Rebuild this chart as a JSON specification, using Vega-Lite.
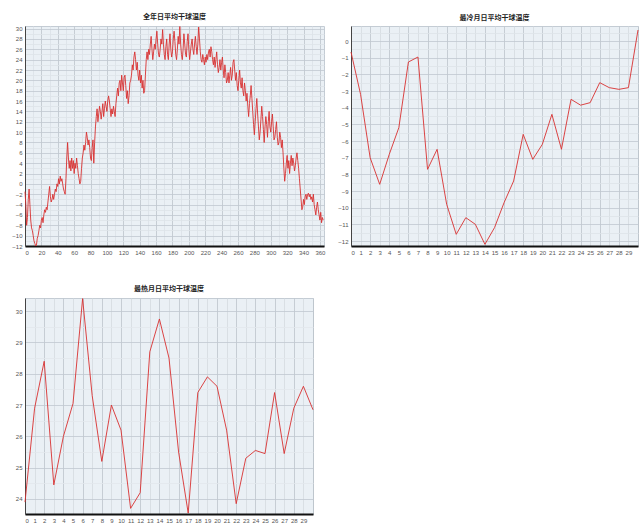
{
  "$schema": "https://vega.github.io/schema/vega-lite/v6.json",
  "background": "white",
  "padding": {"left": 11, "top": 12, "right": 5, "bottom": 5},
  "config": {
    "view": {"fill": "#eaf0f5", "stroke": "#c4ccd4", "strokeWidth": 1},
    "axis": {"labelFontSize": 6, "labelColor": "#555555", "labelFont": "Liberation Sans", "ticks": false, "labelPadding": 3, "title": null, "gridWidth": 0.8, "labelOverlap": false, "format": "d"},
    "axisX": {"domainColor": "#111111", "domainWidth": 2},
    "axisY": {"domainColor": "#444444", "domainWidth": 1},
    "title": {"fontSize": 7, "font": "Noto Sans CJK SC", "fontWeight": "bold", "color": "#222222", "offset": 5, "anchor": "middle"},
    "line": {"color": "#d83030", "strokeWidth": 0.9}
  },
  "datasets": {
    "year": [
{"day":0,"temp":-1.5},{"day":1,"temp":-4},{"day":2,"temp":-8},{"day":3,"temp":-6.5},{"day":4,"temp":-3},{"day":5,"temp":-1},{"day":6,"temp":-4},{"day":7,"temp":-7},{"day":8,"temp":-8.5},{"day":9,"temp":-9},
{"day":10,"temp":-10},{"day":11,"temp":-11},{"day":12,"temp":-11.5},{"day":13,"temp":-12},{"day":14,"temp":-11.8},{"day":15,"temp":-10.5},{"day":16,"temp":-10},{"day":17,"temp":-9},{"day":18,"temp":-8},{"day":19,"temp":-8.5},
{"day":20,"temp":-7},{"day":21,"temp":-6.5},{"day":22,"temp":-7.5},{"day":23,"temp":-6},{"day":24,"temp":-5},{"day":25,"temp":-5.5},{"day":26,"temp":-4.5},{"day":27,"temp":-5},{"day":28,"temp":-3.5},{"day":29,"temp":-2},
{"day":30,"temp":-0.5},{"day":31,"temp":-2.5},{"day":32,"temp":-3.5},{"day":33,"temp":-3},{"day":34,"temp":-2},{"day":35,"temp":-3},{"day":36,"temp":-2},{"day":37,"temp":-1},{"day":38,"temp":-1.5},{"day":39,"temp":0},
{"day":40,"temp":-0.5},{"day":41,"temp":1},{"day":42,"temp":0},{"day":43,"temp":1.5},{"day":44,"temp":0.5},{"day":45,"temp":1},{"day":46,"temp":0},{"day":47,"temp":-1},{"day":48,"temp":-1.5},{"day":49,"temp":-2},
{"day":50,"temp":1},{"day":51,"temp":5},{"day":52,"temp":8},{"day":53,"temp":5},{"day":54,"temp":3},{"day":55,"temp":4.5},{"day":56,"temp":2.5},{"day":57,"temp":5},{"day":58,"temp":3},{"day":59,"temp":4.5},
{"day":60,"temp":2},{"day":61,"temp":4},{"day":62,"temp":3},{"day":63,"temp":5},{"day":64,"temp":3.5},{"day":65,"temp":2},{"day":66,"temp":1},{"day":67,"temp":0},{"day":68,"temp":0.5},{"day":69,"temp":3},
{"day":70,"temp":5},{"day":71,"temp":6},{"day":72,"temp":7.5},{"day":73,"temp":6.5},{"day":74,"temp":8},{"day":75,"temp":10},{"day":76,"temp":9},{"day":77,"temp":7.5},{"day":78,"temp":8.5},{"day":79,"temp":7},
{"day":80,"temp":5},{"day":81,"temp":4.5},{"day":82,"temp":7},{"day":83,"temp":8.5},{"day":84,"temp":4},{"day":85,"temp":8},{"day":86,"temp":11},{"day":87,"temp":13},{"day":88,"temp":14.5},{"day":89,"temp":12},
{"day":90,"temp":13.5},{"day":91,"temp":15},{"day":92,"temp":14},{"day":93,"temp":12.5},{"day":94,"temp":14},{"day":95,"temp":15.5},{"day":96,"temp":13},{"day":97,"temp":14.5},{"day":98,"temp":16},{"day":99,"temp":15},
{"day":100,"temp":14},{"day":101,"temp":16},{"day":102,"temp":17},{"day":103,"temp":16},{"day":104,"temp":14.5},{"day":105,"temp":13},{"day":106,"temp":14.5},{"day":107,"temp":13.5},{"day":108,"temp":15},{"day":109,"temp":14},
{"day":110,"temp":13},{"day":111,"temp":15.5},{"day":112,"temp":17},{"day":113,"temp":18.5},{"day":114,"temp":17},{"day":115,"temp":19.5},{"day":116,"temp":20},{"day":117,"temp":18},{"day":118,"temp":21},{"day":119,"temp":19.5},
{"day":120,"temp":18},{"day":121,"temp":20.5},{"day":122,"temp":21},{"day":123,"temp":19},{"day":124,"temp":16.5},{"day":125,"temp":18},{"day":126,"temp":15.5},{"day":127,"temp":17},{"day":128,"temp":19.5},{"day":129,"temp":20},
{"day":130,"temp":21},{"day":131,"temp":23},{"day":132,"temp":22},{"day":133,"temp":24.5},{"day":134,"temp":25.5},{"day":135,"temp":24},{"day":136,"temp":22},{"day":137,"temp":23.5},{"day":138,"temp":21},{"day":139,"temp":20},
{"day":140,"temp":22},{"day":141,"temp":19.5},{"day":142,"temp":21},{"day":143,"temp":18.5},{"day":144,"temp":20},{"day":145,"temp":17.5},{"day":146,"temp":18},{"day":147,"temp":21},{"day":148,"temp":24},{"day":149,"temp":25.5},
{"day":150,"temp":24},{"day":151,"temp":26},{"day":152,"temp":25},{"day":153,"temp":27},{"day":154,"temp":28.5},{"day":155,"temp":26},{"day":156,"temp":24},{"day":157,"temp":25.5},{"day":158,"temp":27},{"day":159,"temp":26},
{"day":160,"temp":28},{"day":161,"temp":29.5},{"day":162,"temp":27},{"day":163,"temp":25},{"day":164,"temp":24.5},{"day":165,"temp":26},{"day":166,"temp":28},{"day":167,"temp":27},{"day":168,"temp":29.8},{"day":169,"temp":27},
{"day":170,"temp":25},{"day":171,"temp":24},{"day":172,"temp":26.5},{"day":173,"temp":28},{"day":174,"temp":25},{"day":175,"temp":24},{"day":176,"temp":27},{"day":177,"temp":29},{"day":178,"temp":26},{"day":179,"temp":24.5},
{"day":180,"temp":25.5},{"day":181,"temp":28},{"day":182,"temp":29.5},{"day":183,"temp":27.5},{"day":184,"temp":25},{"day":185,"temp":24},{"day":186,"temp":26},{"day":187,"temp":28.5},{"day":188,"temp":27},{"day":189,"temp":30.4},
{"day":190,"temp":27},{"day":191,"temp":25},{"day":192,"temp":24},{"day":193,"temp":26},{"day":194,"temp":29},{"day":195,"temp":27},{"day":196,"temp":25},{"day":197,"temp":24.5},{"day":198,"temp":27.5},{"day":199,"temp":29},
{"day":200,"temp":26},{"day":201,"temp":24},{"day":202,"temp":25.5},{"day":203,"temp":27},{"day":204,"temp":28},{"day":205,"temp":26},{"day":206,"temp":25},{"day":207,"temp":27},{"day":208,"temp":28.5},{"day":209,"temp":26.5},
{"day":210,"temp":25},{"day":211,"temp":27},{"day":212,"temp":30.3},{"day":213,"temp":28},{"day":214,"temp":25.5},{"day":215,"temp":24},{"day":216,"temp":23.5},{"day":217,"temp":25},{"day":218,"temp":24},{"day":219,"temp":23},
{"day":220,"temp":24.5},{"day":221,"temp":23.5},{"day":222,"temp":25},{"day":223,"temp":24},{"day":224,"temp":25.5},{"day":225,"temp":26},{"day":226,"temp":24.5},{"day":227,"temp":26.5},{"day":228,"temp":25.5},{"day":229,"temp":24},
{"day":230,"temp":23},{"day":231,"temp":24.5},{"day":232,"temp":22.5},{"day":233,"temp":24},{"day":234,"temp":25.5},{"day":235,"temp":23},{"day":236,"temp":21.5},{"day":237,"temp":22.5},{"day":238,"temp":24},{"day":239,"temp":22},
{"day":240,"temp":23.5},{"day":241,"temp":24.5},{"day":242,"temp":22},{"day":243,"temp":20.5},{"day":244,"temp":23},{"day":245,"temp":21.5},{"day":246,"temp":19.5},{"day":247,"temp":20},{"day":248,"temp":21.5},{"day":249,"temp":19.5},
{"day":250,"temp":21},{"day":251,"temp":22.5},{"day":252,"temp":20},{"day":253,"temp":21},{"day":254,"temp":23.5},{"day":255,"temp":24},{"day":256,"temp":22},{"day":257,"temp":20},{"day":258,"temp":21.5},{"day":259,"temp":19},
{"day":260,"temp":18},{"day":261,"temp":20},{"day":262,"temp":22},{"day":263,"temp":19.5},{"day":264,"temp":18.5},{"day":265,"temp":20.5},{"day":266,"temp":18},{"day":267,"temp":17},{"day":268,"temp":19.5},{"day":269,"temp":18},
{"day":270,"temp":16},{"day":271,"temp":17.5},{"day":272,"temp":15},{"day":273,"temp":13},{"day":274,"temp":15.5},{"day":275,"temp":17},{"day":276,"temp":19},{"day":277,"temp":16.5},{"day":278,"temp":14},{"day":279,"temp":11.5},
{"day":280,"temp":9.5},{"day":281,"temp":12},{"day":282,"temp":14.5},{"day":283,"temp":16.5},{"day":284,"temp":13.5},{"day":285,"temp":11},{"day":286,"temp":8.5},{"day":287,"temp":10},{"day":288,"temp":12.5},{"day":289,"temp":15},
{"day":290,"temp":13},{"day":291,"temp":10.5},{"day":292,"temp":8},{"day":293,"temp":11},{"day":294,"temp":13},{"day":295,"temp":11.5},{"day":296,"temp":9},{"day":297,"temp":12},{"day":298,"temp":14},{"day":299,"temp":11},
{"day":300,"temp":10},{"day":301,"temp":12},{"day":302,"temp":13.5},{"day":303,"temp":11},{"day":304,"temp":8.5},{"day":305,"temp":9},{"day":306,"temp":10.5},{"day":307,"temp":12},{"day":308,"temp":9},{"day":309,"temp":7.5},
{"day":310,"temp":8},{"day":311,"temp":10},{"day":312,"temp":9},{"day":313,"temp":7},{"day":314,"temp":8.5},{"day":315,"temp":6},{"day":316,"temp":3},{"day":317,"temp":0.5},{"day":318,"temp":2},{"day":319,"temp":4},
{"day":320,"temp":5.5},{"day":321,"temp":3},{"day":322,"temp":4.5},{"day":323,"temp":2},{"day":324,"temp":4},{"day":325,"temp":5.5},{"day":326,"temp":3.5},{"day":327,"temp":5},{"day":328,"temp":4},{"day":329,"temp":2.5},
{"day":330,"temp":3.5},{"day":331,"temp":5},{"day":332,"temp":6},{"day":333,"temp":4.5},{"day":334,"temp":3},{"day":335,"temp":1},{"day":336,"temp":-1},{"day":337,"temp":-3},{"day":338,"temp":-5},{"day":339,"temp":-4.5},
{"day":340,"temp":-3},{"day":341,"temp":-4},{"day":342,"temp":-2.5},{"day":343,"temp":-2},{"day":344,"temp":-3},{"day":345,"temp":-2},{"day":346,"temp":-1.8},{"day":347,"temp":-2.5},{"day":348,"temp":-2},{"day":349,"temp":-3},
{"day":350,"temp":-2.5},{"day":351,"temp":-3.5},{"day":352,"temp":-2},{"day":353,"temp":-4},{"day":354,"temp":-5},{"day":355,"temp":-6},{"day":356,"temp":-4.5},{"day":357,"temp":-3.5},{"day":358,"temp":-5},{"day":359,"temp":-6},
{"day":360,"temp":-7},{"day":361,"temp":-5.5},{"day":362,"temp":-7.5},{"day":363,"temp":-6.5},{"day":364,"temp":-7}
    ],
    "cold": [
{"day":0,"temp":-0.66},{"day":1,"temp":-3.2},{"day":2,"temp":-7.0},{"day":3,"temp":-8.6},{"day":4,"temp":-6.8},{"day":5,"temp":-5.2},{"day":6,"temp":-1.26},{"day":7,"temp":-0.96},{"day":8,"temp":-7.7},{"day":9,"temp":-6.5},
{"day":10,"temp":-9.8},{"day":11,"temp":-11.6},{"day":12,"temp":-10.6},{"day":13,"temp":-11.0},{"day":14,"temp":-12.2},{"day":15,"temp":-11.2},{"day":16,"temp":-9.7},{"day":17,"temp":-8.4},{"day":18,"temp":-5.6},{"day":19,"temp":-7.1},
{"day":20,"temp":-6.2},{"day":21,"temp":-4.4},{"day":22,"temp":-6.5},{"day":23,"temp":-3.5},{"day":24,"temp":-3.85},{"day":25,"temp":-3.7},{"day":26,"temp":-2.5},{"day":27,"temp":-2.8},{"day":28,"temp":-2.9},{"day":29,"temp":-2.8},
{"day":30,"temp":0.66}
    ],
    "hot": [
{"day":0,"temp":23.9},{"day":1,"temp":26.9},{"day":2,"temp":28.4},{"day":3,"temp":24.45},{"day":4,"temp":26.0},{"day":5,"temp":27.05},{"day":6,"temp":30.4},{"day":7,"temp":27.3},{"day":8,"temp":25.2},{"day":9,"temp":27.0},
{"day":10,"temp":26.2},{"day":11,"temp":23.7},{"day":12,"temp":24.2},{"day":13,"temp":28.7},{"day":14,"temp":29.75},{"day":15,"temp":28.5},{"day":16,"temp":25.5},{"day":17,"temp":23.55},{"day":18,"temp":27.4},{"day":19,"temp":27.9},
{"day":20,"temp":27.6},{"day":21,"temp":26.2},{"day":22,"temp":23.85},{"day":23,"temp":25.3},{"day":24,"temp":25.55},{"day":25,"temp":25.45},{"day":26,"temp":27.4},{"day":27,"temp":25.45},{"day":28,"temp":26.9},{"day":29,"temp":27.6},
{"day":30,"temp":26.85}
    ]
  },
  "columns": 2,
  "bounds": "flush",
  "spacing": {"row": 52, "column": 27},
  "concat": [
    {
      "title": {"text": "全年日平均干球温度"},
      "width": 299, "height": 220,
      "data": {"name": "year"},
      "mark": {"type": "line"},
      "encoding": {
        "x": {"field": "day", "type": "quantitative", "scale": {"domain": [0, 365], "nice": false},
          "axis": {"values": [0,10,20,30,40,50,60,70,80,90,100,110,120,130,140,150,160,170,180,190,200,210,220,230,240,250,260,270,280,290,300,310,320,330,340,350,360],
            "labelExpr": "datum.value % 20 === 0 ? datum.label : ''",
            "gridColor": {"condition": {"test": "datum.value % 20 === 0", "value": "#bcc4cc"}, "value": "#dbe1e7"}}},
        "y": {"field": "temp", "type": "quantitative", "scale": {"domain": [-12, 30.5], "nice": false, "zero": false},
          "axis": {"values": [-12,-11,-10,-9,-8,-7,-6,-5,-4,-3,-2,-1,0,1,2,3,4,5,6,7,8,9,10,11,12,13,14,15,16,17,18,19,20,21,22,23,24,25,26,27,28,29,30],
            "labelExpr": "datum.value % 2 === 0 ? datum.label : ''",
            "gridColor": {"condition": {"test": "datum.value % 2 === 0", "value": "#c0c8d0"}, "value": "#dde3e8"}}}
      }
    },
    {
      "title": {"text": "最冷月日平均干球温度"},
      "width": 287, "height": 220,
      "data": {"name": "cold"},
      "mark": {"type": "line"},
      "encoding": {
        "x": {"field": "day", "type": "quantitative", "scale": {"domain": [0, 30], "nice": false},
          "axis": {"values": [0,1,2,3,4,5,6,7,8,9,10,11,12,13,14,15,16,17,18,19,20,21,22,23,24,25,26,27,28,29,30],
            "labelExpr": "datum.value < 30 ? datum.label : ''",
            "gridColor": {"condition": {"test": "datum.value % 2 === 0", "value": "#bcc4cc"}, "value": "#d4dae0"}}},
        "y": {"field": "temp", "type": "quantitative", "scale": {"domain": [-12.3, 0.9], "nice": false, "zero": false},
          "axis": {"values": [-12,-11.5,-11,-10.5,-10,-9.5,-9,-8.5,-8,-7.5,-7,-6.5,-6,-5.5,-5,-4.5,-4,-3.5,-3,-2.5,-2,-1.5,-1,-0.5,0,0.5],
            "labelExpr": "datum.value % 1 === 0 ? datum.label : ''",
            "gridColor": {"condition": {"test": "datum.value % 1 === 0", "value": "#c0c8d0"}, "value": "#dde3e8"}}}
      }
    },
    {
      "title": {"text": "最热月日平均干球温度"},
      "width": 288, "height": 216,
      "data": {"name": "hot"},
      "mark": {"type": "line"},
      "encoding": {
        "x": {"field": "day", "type": "quantitative", "scale": {"domain": [0, 30], "nice": false},
          "axis": {"values": [0,1,2,3,4,5,6,7,8,9,10,11,12,13,14,15,16,17,18,19,20,21,22,23,24,25,26,27,28,29,30],
            "labelExpr": "datum.value < 30 ? datum.label : ''",
            "gridColor": {"condition": {"test": "datum.value % 2 === 0", "value": "#bcc4cc"}, "value": "#d4dae0"}}},
        "y": {"field": "temp", "type": "quantitative", "scale": {"domain": [23.52, 30.42], "nice": false, "zero": false},
          "axis": {"values": [24,24.5,25,25.5,26,26.5,27,27.5,28,28.5,29,29.5,30],
            "labelExpr": "datum.value % 1 === 0 ? datum.label : ''",
            "gridColor": {"condition": {"test": "datum.value % 1 === 0", "value": "#c0c8d0"}, "value": "#e2e7ec"}}}
      }
    }
  ]
}
